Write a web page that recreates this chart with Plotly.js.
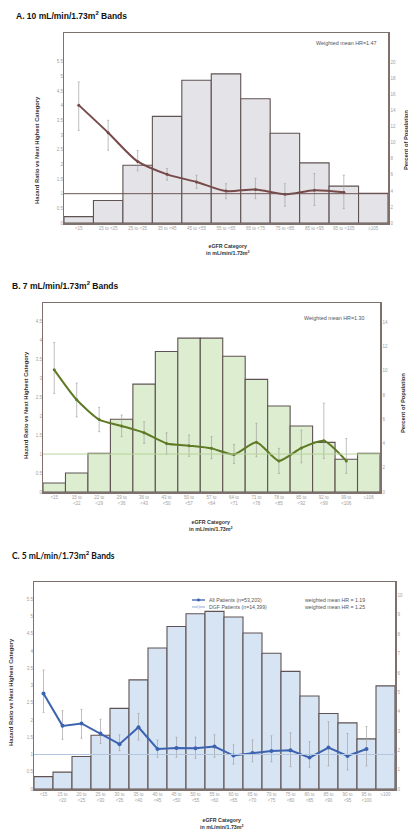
<!DOCTYPE html>
<html><head><meta charset="utf-8">
<script src="https://cdn.plot.ly/plotly-3.0.1.min.js"></script>
<style>html,body{margin:0;padding:0;background:#fff}#chart{width:408px;height:831px}</style>
</head><body><div id="chart"></div>
<script>
// ---------- Panel A: 10 mL/min/1.73m2 bands ----------
const catsA = ["<15", "15 to <25", "25 to <35", "35 to <45", "45 to <55", "55 to <65", "65 to <75", "75 to <85", "85 to <95", "95 to <105", "\u2265105"];
const pctA = [0.8, 2.8, 7.2, 13.3, 17.8, 18.6, 15.5, 11.2, 7.5, 4.6, 3.7];
const hrA = [4.02, 3.08, 2.10, 1.66, 1.40, 1.09, 1.14, 0.98, 1.12, 1.05];
const hrAHi = [4.81, 3.50, 2.47, 1.86, 1.63, 1.34, 1.52, 1.34, 1.69, 1.63];
const hrALo = [3.16, 2.48, 1.78, 1.46, 1.18, 0.83, 0.83, 0.57, 0.60, 0.49];
const hrTicksA = [0, 0.5, 1, 1.5, 2, 2.5, 3, 3.5, 4, 4.5, 5, 5.5];
const pctTicksA = [0, 2, 4, 6, 8, 10, 12, 14, 16, 18, 20];

// ---------- Panel B: 7 mL/min/1.73m2 bands ----------
const catsB = ["<15", "15 to<br><22", "22 to<br><29", "29 to<br><36", "36 to<br><43", "43 to<br><50", "50 to<br><57", "57 to<br><64", "64 to<br><71", "71 to<br><78", "78 to<br><85", "85 to<br><92", "92 to<br><99", "99 to<br><106", "\u2265106"];
const pctB = [0.74, 1.57, 3.2, 6.0, 8.9, 11.6, 12.7, 12.7, 11.2, 9.3, 7.1, 5.45, 4.1, 2.7, 3.2];
const hrB = [3.22, 2.43, 1.91, 1.74, 1.56, 1.28, 1.22, 1.15, 0.99, 1.31, 0.82, 1.16, 1.35, 0.82];
const hrBHi = [3.94, 2.87, 2.23, 2.03, 1.85, 1.56, 1.50, 1.46, 1.25, 1.81, 1.15, 1.63, 2.34, 1.41];
const hrBLo = [2.60, 1.98, 1.59, 1.46, 1.28, 0.99, 0.94, 0.88, 0.75, 0.93, 0.49, 0.77, 0.88, 0.49];
const hrTicksB = [0, 0.5, 1, 1.5, 2, 2.5, 3, 3.5, 4, 4.5];
const pctTicksB = [0, 2, 4, 6, 8, 10, 12, 14];

// ---------- Panel C: 5 mL/min/1.73m2 bands ----------
const catsC = ["<15", "15 to<br><20", "20 to<br><25", "25 to<br><30", "30 to<br><35", "35 to<br><40", "40 to<br><45", "45 to<br><50", "50 to<br><55", "55 to<br><60", "60 to<br><65", "65 to<br><70", "70 to<br><75", "75 to<br><80", "80 to<br><85", "85 to<br><90", "90 to<br><95", "95 to<br><100", "\u2265100"];
const pctC = [0.64, 0.87, 1.68, 2.78, 4.17, 5.64, 7.29, 8.4, 9.06, 9.18, 8.89, 8.06, 7.02, 6.08, 4.81, 3.9, 3.42, 2.59, 5.33];
const hrC = [2.77, 1.83, 1.90, 1.61, 1.30, 1.79, 1.16, 1.19, 1.18, 1.23, 0.97, 1.04, 1.10, 1.12, 0.91, 1.20, 0.96, 1.16];
const hrCHi = [3.45, 2.27, 2.31, 2.02, 1.57, 2.19, 1.42, 1.50, 1.50, 1.57, 1.28, 1.42, 1.54, 1.63, 1.37, 1.95, 1.61, 1.81];
const hrCLo = [2.22, 1.44, 1.47, 1.32, 1.11, 1.42, 0.92, 0.92, 0.89, 0.92, 0.72, 0.79, 0.79, 0.65, 0.63, 0.67, 0.55, 0.67];
const hrTicksC = [0, 0.5, 1, 1.5, 2, 2.5, 3, 3.5, 4, 4.5, 5, 5.5];
const pctTicksC = [0, 1, 2, 3, 4, 5, 6, 7, 8, 9, 10];

const legendNames = ["All Patients (n=53,203)", "DGF Patients (n=14,399)"];
const legendMeans = ["weighted mean HR = 1.19", "weighted mean HR = 1.25"];

// ---------- styling ----------
const W = 408, H = 831;
const FONT = "Liberation Sans, Arial, sans-serif";
const frame = "#7d706d";
const barLine = "#5f5252";
const tickFont = {family: FONT, size: 4.5, color: "#a0a0a0"};
const px = v => v / W;
const py = v => 1 - v / H;

function errs(hr, hi, lo) {
  return {
    type: "data", symmetric: false,
    array: hi.map((h, i) => h - hr[i]),
    arrayminus: lo.map((l, i) => hr[i] - l),
    color: "#a3a3a3", thickness: 0.7, width: 1
  };
}

const traces = [
  {type: "bar", x: catsA, y: pctA, xaxis: "x", yaxis: "y", width: 1,
   marker: {color: "#e4e4e8", line: {color: barLine, width: 1.1}}, hoverinfo: "skip"},
  {type: "scatter", mode: "lines+markers", x: catsA.slice(0, hrA.length), y: hrA, xaxis: "x", yaxis: "y2",
   line: {color: "#774a4a", width: 2, shape: "spline", smoothing: 0.8},
   marker: {color: "#774a4a", size: 3}, error_y: errs(hrA, hrAHi, hrALo)},

  {type: "bar", x: catsB, y: pctB, xaxis: "x2", yaxis: "y3", width: 1,
   marker: {color: "#dcedd0", line: {color: barLine, width: 1.1}}, hoverinfo: "skip"},
  {type: "scatter", mode: "lines+markers", x: catsB.slice(0, hrB.length), y: hrB, xaxis: "x2", yaxis: "y4",
   line: {color: "#5f7a25", width: 2, shape: "spline", smoothing: 0.6},
   marker: {color: "#5f7a25", size: 3}, error_y: errs(hrB, hrBHi, hrBLo)},

  {type: "bar", x: catsC, y: pctC, xaxis: "x3", yaxis: "y5", width: 1,
   marker: {color: "#d7e4f3", line: {color: barLine, width: 1.1}}, hoverinfo: "skip"},
  {type: "scatter", mode: "lines+markers", x: catsC.slice(0, hrC.length), y: hrC, xaxis: "x3", yaxis: "y6",
   line: {color: "#3c62b2", width: 2},
   marker: {color: "#3c62b2", size: 4}, error_y: errs(hrC, hrCHi, hrCLo)}
];

function xAx(dom, n, anchor) {
  return {domain: dom, anchor: anchor, type: "category", range: [-0.5, n - 0.5],
    showline: true, mirror: true, linecolor: frame, linewidth: 1.5,
    showgrid: false, zeroline: false, ticks: "", tickfont: tickFont, tickangle: 0, fixedrange: true};
}
function yPct(dom, range, tv, anchor) {
  return {domain: dom, anchor: anchor, side: "right", range: range, tickvals: tv,
    showline: true, mirror: true, linecolor: frame, linewidth: 1.5,
    showgrid: false, zeroline: false, ticks: "", tickfont: tickFont, fixedrange: true};
}
function yHr(over, range, tv, anchor) {
  return {overlaying: over, anchor: anchor, side: "left", range: range, tickvals: tv,
    showline: false, showgrid: false, zeroline: false, ticks: "", tickfont: tickFont, fixedrange: true};
}

const domA = [py(223), py(33)], domB = [py(492), py(303)], domC = [py(789), py(582)];

const ann = [];
function txt(x, y, text, opts) {
  ann.push(Object.assign({xref: "paper", yref: "paper", x: px(x), y: py(y), text: text, showarrow: false,
    xanchor: "left", yanchor: "middle", font: {family: FONT, size: 6, color: "#333"}}, opts || {}));
}
// panel titles
txt(14, 15, "<b>A. 10 mL/min/1.73m<sup>2</sup> Bands</b>", {font: {family: FONT, size: 8.5, color: "#111"}});
txt(10, 285, "<b>B. 7 mL/min/1.73m<sup>2</sup> Bands</b>", {font: {family: FONT, size: 8.5, color: "#111"}});
txt(10, 555, "<b>C. 5 mL/min/1.73m<sup>2</sup> Bands</b>", {font: {family: "Lato, Open Sans, sans-serif", size: 8.5, color: "#111"}});
// weighted mean notes
txt(379, 43, "Weighted mean HR=1.47", {xanchor: "right", font: {family: FONT, size: 5.4, color: "#555"}});
txt(367, 318, "Weighted mean HR=1.30", {xanchor: "right", font: {family: FONT, size: 5.4, color: "#555"}});
// x titles
txt(228, 249, "<b>eGFR Category<br>in mL/min/1.73m<sup>2</sup></b>", {xanchor: "center", font: {family: FONT, size: 5.3, color: "#333"}});
txt(211, 525, "<b>eGFR Category<br>in mL/min/1.73m<sup>2</sup></b>", {xanchor: "center", font: {family: FONT, size: 5.3, color: "#333"}});
txt(222, 823, "<b>eGFR Category<br>in mL/min/1.73m<sup>2</sup></b>", {xanchor: "center", font: {family: FONT, size: 5.3, color: "#333"}});
// left titles
const hrTitle = "<b>Hazard Ratio vs Next Highest Category</b>";
txt(37, 150, hrTitle, {xanchor: "center", textangle: -90, font: {family: FONT, size: 5.8, color: "#333"}});
txt(26, 405, hrTitle, {xanchor: "center", textangle: -90, font: {family: FONT, size: 5.8, color: "#333"}});
txt(11, 692, hrTitle, {xanchor: "center", textangle: -90, font: {family: FONT, size: 5.8, color: "#333"}});
// right titles
txt(406, 140, "<b>Percent of Population</b>", {xanchor: "center", textangle: -90, font: {family: FONT, size: 5.8, color: "#333"}});
txt(403, 403, "<b>Percent of Population</b>", {xanchor: "center", textangle: -90, font: {family: FONT, size: 5.8, color: "#333"}});
// legend panel C
txt(207, 600, legendNames[0], {font: {family: FONT, size: 5.2, color: "#555"}});
txt(303, 600, legendMeans[0], {font: {family: FONT, size: 5.2, color: "#555"}});
txt(207, 607, legendNames[1], {font: {family: FONT, size: 5.2, color: "#555"}});
txt(303, 607, legendMeans[1], {font: {family: FONT, size: 5.2, color: "#555"}});

const shapes = [
  {type: "line", xref: "x domain", yref: "y2", x0: 0, x1: 1, y0: 1, y1: 1, line: {color: "#6e5454", width: 1}},
  {type: "line", xref: "x2 domain", yref: "y4", x0: 0, x1: 1, y0: 1, y1: 1, line: {color: "#b9d29c", width: 1}},
  {type: "line", xref: "x3 domain", yref: "y6", x0: 0, x1: 1, y0: 1, y1: 1, line: {color: "#b3c6de", width: 1}},
  // legend symbols
  {type: "line", xref: "paper", yref: "paper", x0: px(192), x1: px(205), y0: py(600), y1: py(600), line: {color: "#3c62b2", width: 1.3}},
  {type: "circle", xref: "paper", yref: "paper", x0: px(197.2), x1: px(199.8), y0: py(601.3), y1: py(598.7), fillcolor: "#3c62b2", line: {color: "#3c62b2", width: 0.5}},
  {type: "line", xref: "paper", yref: "paper", x0: px(192), x1: px(205), y0: py(607), y1: py(607), line: {color: "#a9c0de", width: 1.3}},
  {type: "circle", xref: "paper", yref: "paper", x0: px(197.2), x1: px(199.8), y0: py(608.3), y1: py(605.7), fillcolor: "#ffffff", line: {color: "#a9c0de", width: 0.7}}
];

const layout = {
  width: W, height: H, margin: {l: 0, r: 0, t: 0, b: 0},
  paper_bgcolor: "#fff", plot_bgcolor: "#fff", showlegend: false,
  bargap: 0, font: {family: FONT},
  xaxis: xAx([px(64), px(388)], catsA.length, "y"),
  yaxis: yPct(domA, [0, 23.7], pctTicksA, "x"),
  yaxis2: yHr("y", [0, 6.48], hrTicksA, "x"),
  xaxis2: xAx([px(43), px(380)], catsB.length, "y3"),
  yaxis3: yPct(domB, [0, 15.6], pctTicksB, "x2"),
  yaxis4: yHr("y3", [0, 4.98], hrTicksB, "x2"),
  xaxis3: xAx([px(34), px(395)], catsC.length, "y5"),
  yaxis5: yPct(domC, [0, 10.7], pctTicksC, "x3"),
  yaxis6: yHr("y5", [0, 6.0], hrTicksC, "x3"),
  annotations: ann, shapes: shapes
};

Plotly.newPlot("chart", traces, layout, {staticPlot: true, displayModeBar: false});
</script></body></html>
